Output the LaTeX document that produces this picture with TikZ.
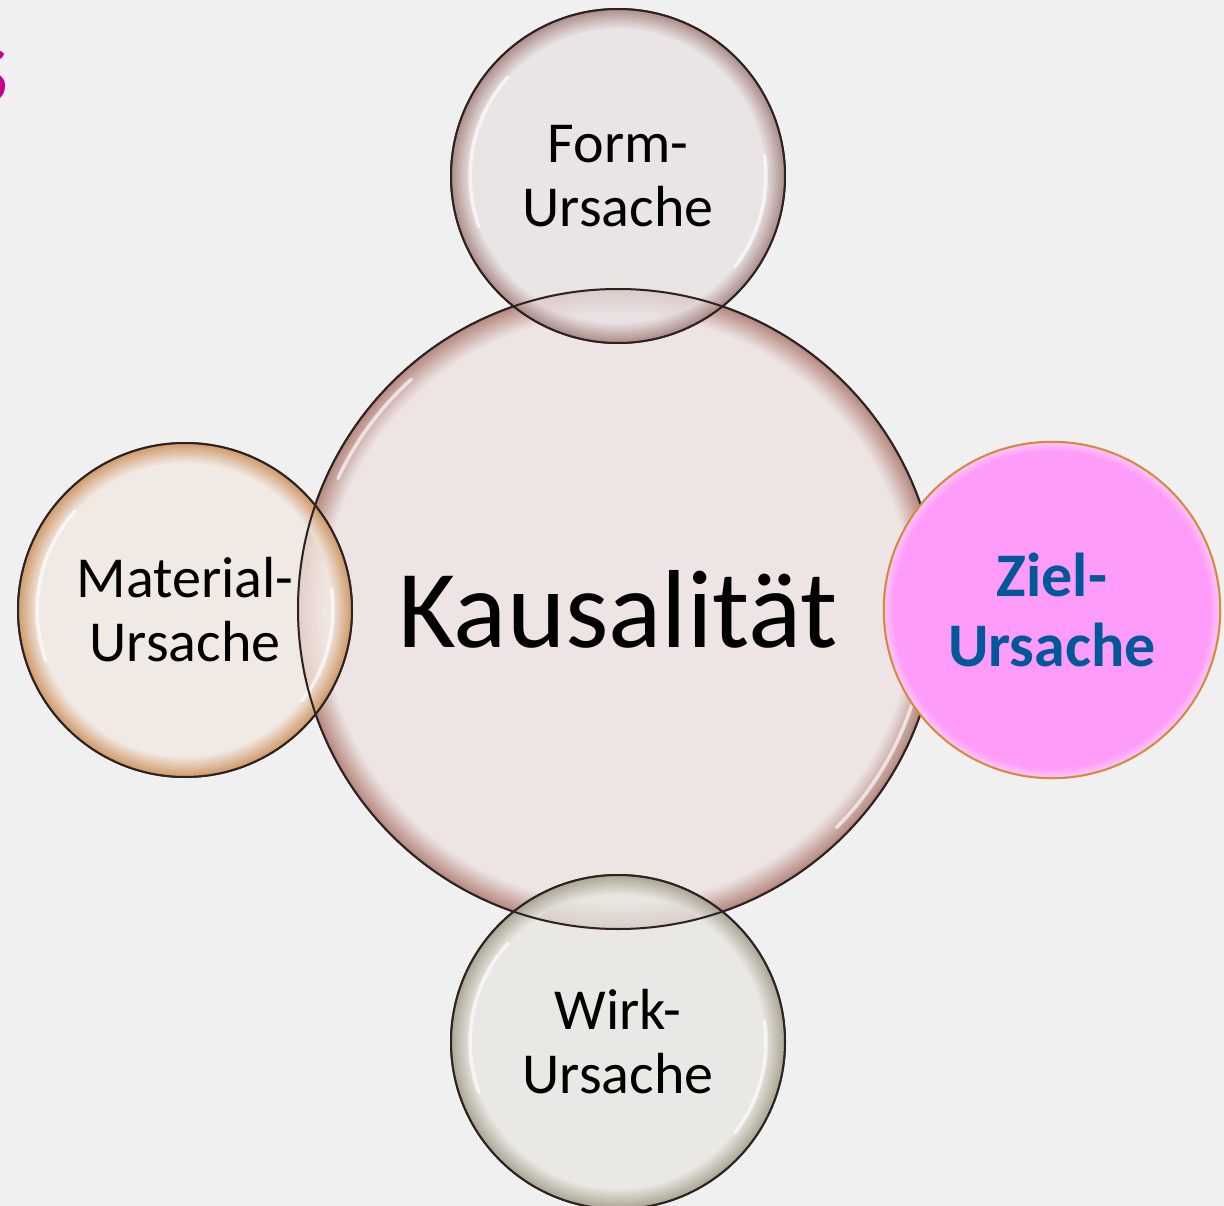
\documentclass[tikz,border=0pt]{standalone}
\usepackage{fontspec}
\setmainfont{Carlito}
\usepackage{xcolor}
\usetikzlibrary{positioning}

\definecolor{bgc}{RGB}{240,240,240}
\definecolor{kfill}{RGB}{237,228,227}
\definecolor{krim}{RGB}{185,140,132}
\definecolor{ffill}{RGB}{233,226,226}
\definecolor{frim}{RGB}{165,132,128}
\definecolor{mfill}{RGB}{241,231,225}
\definecolor{mrim}{RGB}{205,146,92}
\definecolor{zfill}{RGB}{255,155,248}
\definecolor{zrim}{RGB}{255,200,250}
\definecolor{zline}{RGB}{212,136,60}
\definecolor{wfill}{RGB}{232,230,224}
\definecolor{wrim}{RGB}{165,158,140}
\definecolor{zieltext}{RGB}{0,88,154}
\definecolor{titlemag}{RGB}{200,0,140}
\definecolor{rimline}{RGB}{45,36,34}

% rim of a bubble: node, radius, rim colour, fill colour, opacity, steps
\newcommand{\bubblerim}[6]{%
  \foreach \k in {0,...,#6} {
    \pgfmathtruncatemacro{\mixv}{100-\k*100/(#6+1)}
    \draw[#3!\mixv!#4, line width=2.4, draw opacity=#5] (#1.center) circle[radius=#2-2-\k*2];
  }
}

\tikzset{
  bubble/.style={circle, draw=rimline, line width=2, inner sep=0, align=center,
    minimum size=334, font=\fontsize{58}{64}\selectfont},
  glassy/.style={fill opacity=0.75, text opacity=1},
  gloss/.style={white, line width=3.5, line cap=round, opacity=0.65}
}

\begin{document}
\begin{tikzpicture}[x=1pt, y=-1pt]
				% Frame
				\useasboundingbox (0,0) rectangle (1224,1206);
				\clip (0,0) rectangle (1224,1206);
				\fill[bgc] (0,0) rectangle (1224,1206);

				% Title remainder
				\node[anchor=base east, inner sep=0, text=titlemag, font=\fontsize{112}{112}\selectfont] (title) at (10,103) {s};

				% Center
				\node[bubble, fill=kfill, minimum size=640, font=\fontsize{111}{120}\selectfont] (kaus) at (618,609) {Kausalität};
				\bubblerim{kaus}{320}{krim}{kfill}{1}{11}
				\draw[gloss] (kaus.center) ++(205:309) arc[start angle=205, end angle=228, radius=309];
				\draw[gloss] (kaus.center) ++(18:309) arc[start angle=18, end angle=45, radius=309];

				% Causes
				\node[bubble, glassy, fill=ffill] (form) at (618,176) {Form-\\Ursache};
				\bubblerim{form}{167}{frim}{ffill}{0.8}{8}
				\node[bubble, glassy, fill=mfill] (material) at (185,610) {Material-\\Ursache};
				\bubblerim{material}{167}{mrim}{mfill}{0.8}{8}
				\node[bubble, glassy, fill=wfill] (wirk) at (618,1042) {Wirk-\\Ursache};
				\bubblerim{wirk}{167}{wrim}{wfill}{0.8}{8}
				\foreach \b in {form, material, wirk} {
					\draw[gloss] (\b.center) ++(222:148) arc[start angle=222, end angle=160, radius=148];
					\draw[gloss] (\b.center) ++(-8:148) arc[start angle=-8, end angle=38, radius=148];
				}
				\draw[rimline, line width=2] (form.center) circle[radius=167];
				\draw[rimline, line width=2] (material.center) circle[radius=167];
				\draw[rimline, line width=2] (wirk.center) circle[radius=167];

				% outline of the center seen through the glass
				\draw[rimline, line width=2] (kaus.center) circle[radius=320];

				\node[bubble, fill=zfill, draw=zline, line width=2.5, minimum size=336, text=zieltext,
				      font=\fontsize{62}{70}\selectfont\bfseries] (ziel) at (1052,610) {Ziel-\\Ursache};
				\bubblerim{ziel}{168}{zrim}{zfill}{0.8}{3}
			\end{tikzpicture}
\end{document}
